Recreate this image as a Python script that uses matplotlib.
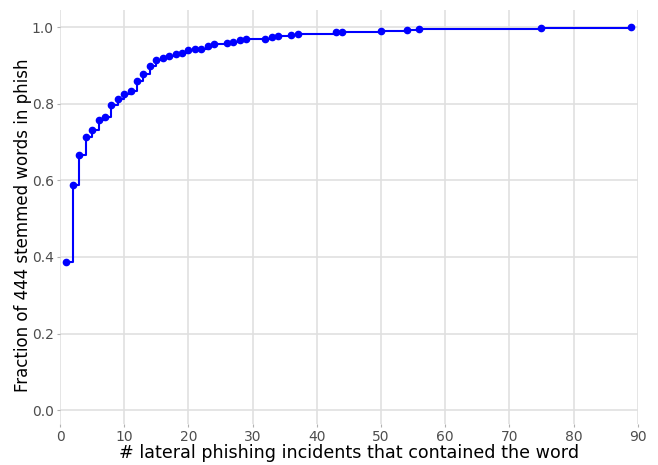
import matplotlib
matplotlib.use("Agg")
import matplotlib.pyplot as plt

# number of lateral phishing incidents containing the word
incidents = [1, 2, 3, 4, 5, 6, 7, 8, 9, 10, 11, 12, 13, 14, 15, 16, 17, 18, 19,
             20, 21, 22, 23, 24, 26, 27, 28, 29, 32, 33, 34, 36, 37, 43, 44,
             50, 54, 56, 75, 89]
# cumulative fraction of the 444 stemmed words
fraction = [0.387, 0.589, 0.666, 0.713, 0.730, 0.757, 0.764, 0.796, 0.811,
            0.824, 0.833, 0.859, 0.877, 0.899, 0.915, 0.920, 0.925, 0.929,
            0.933, 0.939, 0.942, 0.943, 0.950, 0.955, 0.959, 0.962, 0.966,
            0.968, 0.969, 0.974, 0.977, 0.979, 0.982, 0.986, 0.988, 0.990,
            0.992, 0.995, 0.998, 1.000]

xticks = [0, 10, 20, 30, 40, 50, 60, 70, 80, 90]
yticks = [0.0, 0.2, 0.4, 0.6, 0.8, 1.0]

fig = plt.figure(figsize=(6.58, 4.65), dpi=100)
ax = fig.add_axes([0.0912, 0.088, 0.878, 0.891])

ax.plot(incidents, fraction, color="#0000FF", linewidth=1.5, drawstyle="steps-post")
ax.plot(incidents, fraction, "o", color="#0000FF", markersize=4.5)

ax.set_xlim(0, 90)
ax.set_ylim(-0.036, 1.045)
ax.set_xticks(xticks)
ax.set_yticks(yticks)
ax.set_yticklabels(["%.1f" % v for v in yticks])

for s in ax.spines.values():
    s.set_visible(False)
ax.grid(True, color="#E0E0E0", linewidth=1.2)
ax.set_axisbelow(True)
ax.tick_params(length=2.5, width=0.8, color="#B0B0B0", labelcolor="#4D4D4D",
               labelsize=10, pad=2)

ax.set_xlabel("# lateral phishing incidents that contained the word", fontsize=12.6, labelpad=0)
ax.set_ylabel("Fraction of 444 stemmed words in phish", fontsize=12, labelpad=-0.5)
ax.yaxis.label.set_y(0.48)

fig.savefig("out.png", dpi=100)
